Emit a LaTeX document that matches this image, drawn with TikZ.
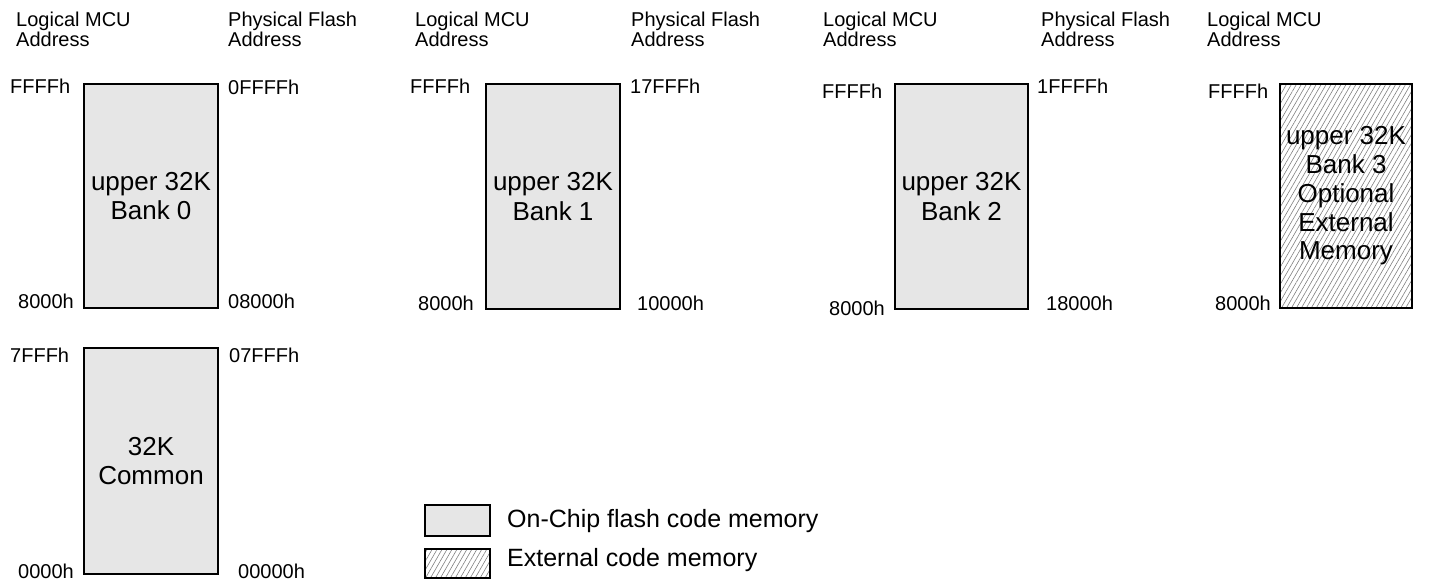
\documentclass[tikz,border=0pt]{standalone}
\usepackage{fontspec}
\setmainfont{Liberation Sans}
\usetikzlibrary{patterns.meta}
\definecolor{chipgray}{RGB}{230,230,230}
\tikzset{
  lbl/.style={anchor=base west, inner sep=0pt, font=\fontsize{20}{20.7}\selectfont},
  hdr/.style={anchor=base west, inner sep=0pt, font=\fontsize{20}{20.7}\selectfont},
  membox/.style={draw=black, line width=2pt, fill=chipgray, inner sep=0pt, align=center,
    font=\fontsize{26}{29.5}\selectfont},
  extbox/.style={draw=black, line width=2pt, inner sep=0pt, align=center,
    pattern={Lines[angle=60,distance=4.3pt,line width=0.6pt]}, pattern color=gray,
    font=\fontsize{26}{28.8}\selectfont},
  legtext/.style={anchor=base west, inner sep=0pt, font=\fontsize{25}{28}\selectfont},
}
\newcommand{\twoline}[2]{\begin{tabular}[t]{@{}l@{}}#1\\#2\end{tabular}}
\begin{document}
\begin{tikzpicture}[x=1pt,y=-1pt]
\path[fill=white,use as bounding box] (0,0) rectangle (1429,584);

% headers
\node[hdr] (h1l) at (16,26) {\twoline{Logical MCU}{Address}};
\node[hdr] (h1p) at (228,26) {\twoline{Physical Flash}{Address}};
\node[hdr] (h2l) at (415,26) {\twoline{Logical MCU}{Address}};
\node[hdr] (h2p) at (631,26) {\twoline{Physical Flash}{Address}};
\node[hdr] (h3l) at (823,26) {\twoline{Logical MCU}{Address}};
\node[hdr] (h3p) at (1041,26) {\twoline{Physical Flash}{Address}};
\node[hdr] (h4l) at (1207,26) {\twoline{Logical MCU}{Address}};

% column 1
\node[membox, minimum width=134pt, minimum height=224pt] (b0) at (151,196) {upper 32K\\Bank 0};
\node[lbl] (b0tl) at (10,93) {FFFFh};
\node[lbl] (b0bl) at (18,308) {8000h};
\node[lbl] (b0tr) at (228,94) {0FFFFh};
\node[lbl] (b0br) at (228,308) {08000h};

\node[membox, minimum width=134pt, minimum height=226pt] (com) at (151,461) {32K\\Common};
\node[lbl] (comtl) at (10,362) {7FFFh};
\node[lbl] (combl) at (18,578) {0000h};
\node[lbl] (comtr) at (229,362) {07FFFh};
\node[lbl] (combr) at (238,578) {00000h};

% column 2
\node[membox, minimum width=134pt, minimum height=225pt] (b1) at (553,196.5) {upper 32K\\Bank 1};
\node[lbl] (b1tl) at (410,93) {FFFFh};
\node[lbl] (b1bl) at (418,310) {8000h};
\node[lbl] (b1tr) at (630,93) {17FFFh};
\node[lbl] (b1br) at (637,310) {10000h};

% column 3
\node[membox, minimum width=133pt, minimum height=225pt] (b2) at (961.5,196.5) {upper 32K\\Bank 2};
\node[lbl] (b2tl) at (822,98) {FFFFh};
\node[lbl] (b2bl) at (829,315) {8000h};
\node[lbl] (b2tr) at (1037,93) {1FFFFh};
\node[lbl] (b2br) at (1046,310) {18000h};

% column 4
\node[extbox, minimum width=132pt, minimum height=224pt] (b3) at (1346,196) {upper 32K\\Bank 3\\Optional\\External\\Memory};
\node[lbl] (b3tl) at (1208,98) {FFFFh};
\node[lbl] (b3bl) at (1215,310) {8000h};

% legend
\node[draw=black, line width=2.4pt, fill=chipgray, minimum width=65pt, minimum height=31pt, inner sep=0pt] (lg1) at (457.5,520.5) {};
\node[draw=black, line width=2.4pt, inner sep=0pt, minimum width=65pt, minimum height=29pt,
  pattern={Lines[angle=60,distance=4.3pt,line width=0.6pt]}, pattern color=gray] (lg2) at (457.5,563.5) {};
\node[legtext] (lt1) at (507,527) {On-Chip flash code memory};
\node[legtext] (lt2) at (507,566) {External code memory};
\end{tikzpicture}
\end{document}
